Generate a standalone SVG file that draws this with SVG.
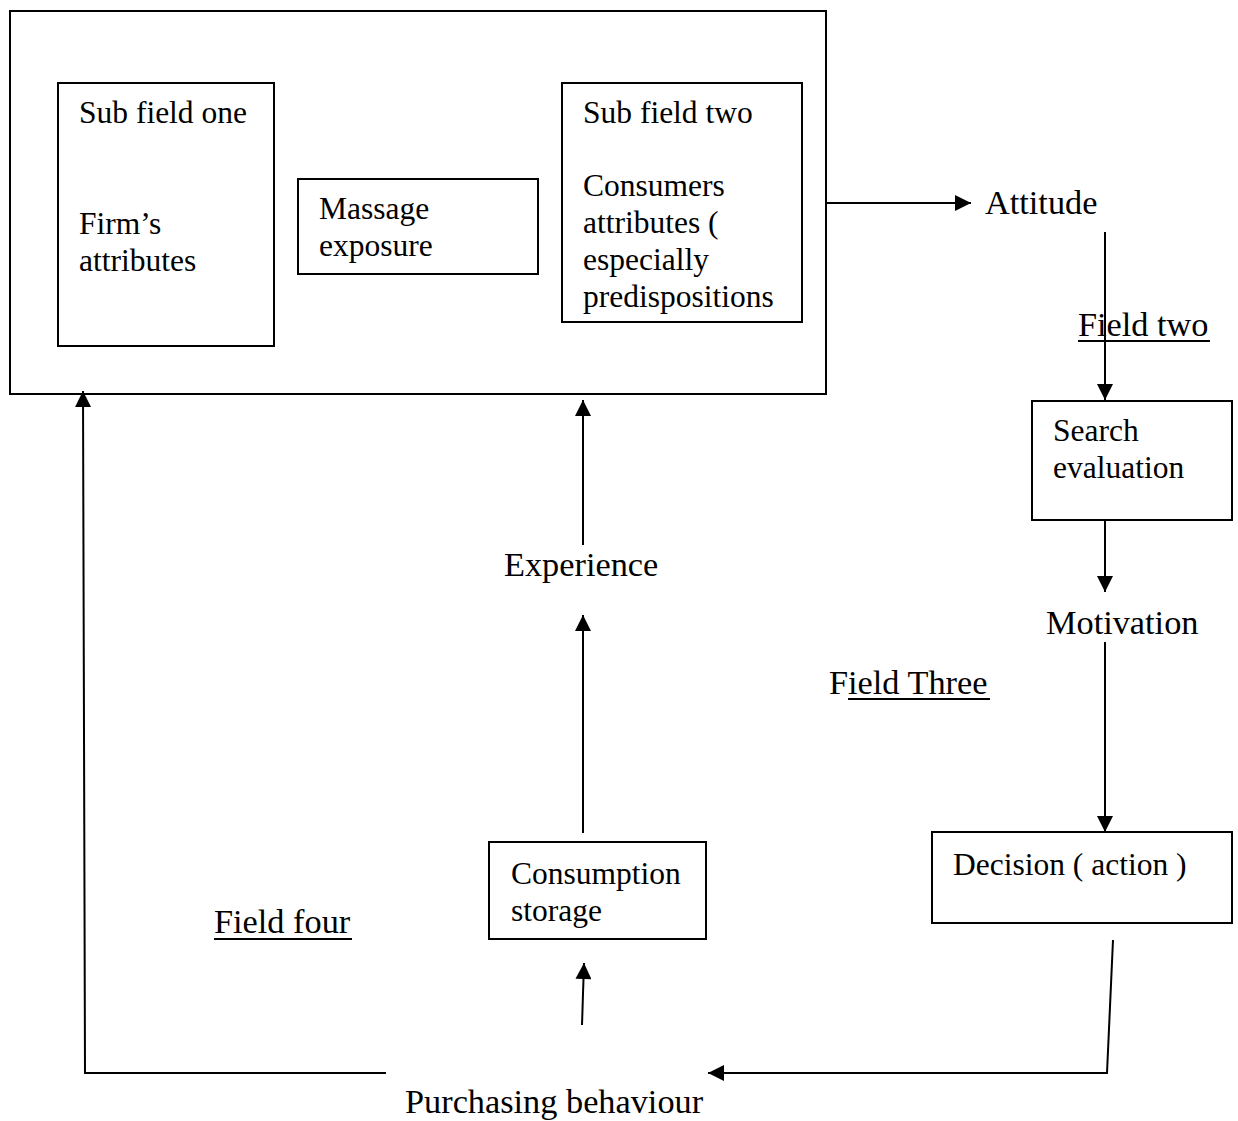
<svg xmlns="http://www.w3.org/2000/svg" width="1238" height="1121" viewBox="0 0 1238 1121">
<style>
.box{fill:#fff;stroke:#000;stroke-width:2}
.t{font-family:"Liberation Serif","Times New Roman",serif;font-size:31.5px;fill:#000}
.l{font-family:"Liberation Serif","Times New Roman",serif;font-size:34.3px;fill:#000}
.c{fill:none;stroke:#000;stroke-width:2}
.u{stroke:#000;stroke-width:2}
</style>
<defs>
<marker id="ah" viewBox="0 0 10 10" refX="10" refY="5" markerWidth="17" markerHeight="16" markerUnits="userSpaceOnUse" orient="auto">
<path d="M0,0 L10,5 L0,10 z" fill="#000"/>
</marker>
</defs>
<rect width="1238" height="1121" fill="#fff"/>
<g id="outer"><rect class="box" x="10" y="11" width="816" height="383"/></g>
<g id="subfield-one">
<rect class="box" x="58" y="83" width="216" height="263"/>
<text class="t" x="79" y="123">Sub field one</text>
<text class="t" x="79" y="234">Firm’s</text>
<text class="t" x="79" y="271">attributes</text>
</g>
<g id="massage">
<rect class="box" x="298" y="179" width="240" height="95"/>
<text class="t" x="319" y="219">Massage</text>
<text class="t" x="319" y="256">exposure</text>
</g>
<g id="subfield-two">
<rect class="box" x="562" y="83" width="240" height="239"/>
<text class="t" x="583" y="123">Sub field two</text>
<text class="t" x="583" y="196">Consumers</text>
<text class="t" x="583" y="233">attributes (</text>
<text class="t" x="583" y="270">especially</text>
<text class="t" x="583" y="307">predispositions</text>
</g>
<g id="attitude"><text class="l" x="985" y="214">Attitude</text></g>
<g id="field-two"><text class="l" x="1078" y="336">Field two</text><line class="u" x1="1078" y1="341" x2="1210" y2="341"/></g>
<g id="search">
<rect class="box" x="1032" y="401" width="200" height="119"/>
<text class="t" x="1053" y="441">Search</text>
<text class="t" x="1053" y="478">evaluation</text>
</g>
<g id="motivation"><text class="l" x="1046" y="634">Motivation</text></g>
<g id="field-three"><text class="l" x="829" y="694">Field Three</text><line class="u" x1="848" y1="699" x2="990" y2="699"/></g>
<g id="decision">
<rect class="box" x="932" y="832" width="300" height="91"/>
<text class="t" x="953" y="875">Decision ( action )</text>
</g>
<g id="purchasing"><text class="l" x="405" y="1113">Purchasing behaviour</text></g>
<g id="consumption">
<rect class="box" x="489" y="842" width="217" height="97"/>
<text class="t" x="511" y="884">Consumption</text>
<text class="t" x="511" y="921">storage</text>
</g>
<g id="experience"><text class="l" x="504" y="576">Experience</text></g>
<g id="field-four"><text class="l" x="214" y="933">Field four</text><line class="u" x1="214" y1="939" x2="352" y2="939"/></g>
<g id="connectors">
<line class="c" x1="826" y1="203" x2="971" y2="203" marker-end="url(#ah)"/>
<line class="c" x1="1105" y1="232" x2="1105" y2="400" marker-end="url(#ah)"/>
<line class="c" x1="1105" y1="520" x2="1105" y2="592" marker-end="url(#ah)"/>
<line class="c" x1="1105" y1="642" x2="1105" y2="832" marker-end="url(#ah)"/>
<polyline class="c" points="1113,940 1107,1073 708,1073" marker-end="url(#ah)"/>
<polyline class="c" points="386,1073 85,1073 83,391" marker-end="url(#ah)"/>
<line class="c" x1="582" y1="1025" x2="584" y2="963" marker-end="url(#ah)"/>
<line class="c" x1="583" y1="833" x2="583" y2="615" marker-end="url(#ah)"/>
<line class="c" x1="583" y1="545" x2="583" y2="400" marker-end="url(#ah)"/>
</g>
</svg>
